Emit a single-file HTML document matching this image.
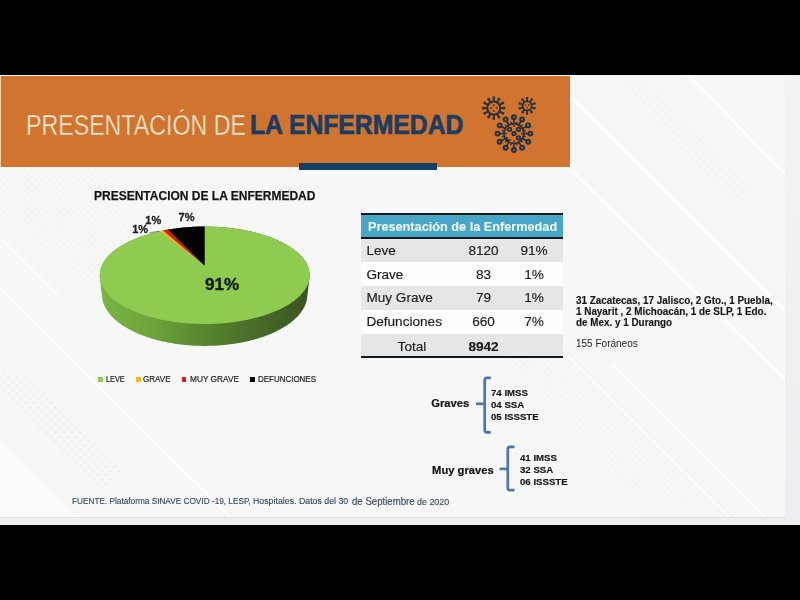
<!DOCTYPE html>
<html><head><meta charset="utf-8">
<style>
*{margin:0;padding:0;box-sizing:border-box}
html,body{width:800px;height:600px;overflow:hidden;background:#000}
body{position:relative;font-family:"Liberation Sans",Arial,sans-serif}
#frame{position:absolute;left:0;top:75px;width:800px;height:450px;background:linear-gradient(#f2f3f5,#eceef1)}
#slide{position:absolute;left:0;top:75px;width:785px;height:442px;background:#f6f6f6;overflow:hidden}
#band{position:absolute;left:1px;top:76px;width:569px;height:91px;background:#d07430}
#bar{position:absolute;left:299px;top:163px;width:138px;height:7px;background:#163f66}
.t{position:absolute;white-space:nowrap;line-height:1}
.b{font-weight:bold}
.ft{color:#2f4661;-webkit-text-stroke:0.12px #2f4661;transform-origin:0 0}
#title1{left:26.3px;top:110.1px;font-size:29.5px;color:#fbead3;-webkit-text-stroke:0.4px #d07430;paint-order:normal;transform:scaleX(0.786);transform-origin:0 0}
#title2{left:250.3px;top:111.2px;font-size:27.6px;color:#1b3d62;font-weight:bold;-webkit-text-stroke:0.7px #1b3d62;transform:scaleX(0.896);transform-origin:0 0}
#ctitle{left:93.6px;top:188.6px;font-size:13.7px;font-weight:bold;color:#141414;-webkit-text-stroke:0.25px #141414;transform:scaleX(0.877);transform-origin:0 0}
.lg{position:absolute;top:374.3px;font-size:9.6px;color:#222;-webkit-text-stroke:0.2px #222;line-height:1;white-space:nowrap;transform-origin:0 0}
.sq{position:absolute;top:376.7px;width:4.9px;height:4.9px}
.row{position:absolute;left:361px;width:202px}
.cell{position:absolute;font-size:13.6px;color:#1a1a1a;-webkit-text-stroke:0.15px #1a1a1a;line-height:1;white-space:nowrap}
.num{width:60px;left:453.5px;text-align:center}
.pct{width:60px;left:504px;text-align:center}
.rt{position:absolute;left:576px;font-size:10.2px;font-weight:bold;color:#161616;line-height:1;white-space:nowrap;transform:scaleX(0.97);transform-origin:0 0;-webkit-text-stroke:0.15px #161616}
.br{position:absolute;font-size:9.9px;font-weight:bold;color:#111;line-height:1;white-space:nowrap;transform:scaleX(0.975);transform-origin:0 0;-webkit-text-stroke:0.15px #111}
</style></head><body>
<div id="frame"></div>
<div id="slide"><svg width="785" height="442" viewBox="0 75 785 442" style="position:absolute;left:0;top:0">
  <defs>
    <pattern id="dots" width="5" height="5" patternUnits="userSpaceOnUse" patternTransform="rotate(45)">
      <circle cx="2.5" cy="2.5" r="1.1" fill="#e9e9e9"/>
    </pattern>
    <pattern id="dots2" width="6" height="6" patternUnits="userSpaceOnUse" patternTransform="rotate(45)">
      <circle cx="3" cy="3" r="1.4" fill="#e2e2e2"/>
    </pattern>
    <pattern id="wdots" width="6" height="6" patternUnits="userSpaceOnUse" patternTransform="rotate(45)">
      <rect width="6" height="6" fill="#f1f1f1"/>
      <circle cx="3" cy="3" r="1.5" fill="#fdfdfd"/>
    </pattern>
    <filter id="bl" x="-10%" y="-10%" width="120%" height="120%"><feGaussianBlur stdDeviation="0.7"/></filter>
  </defs>
  <rect x="0" y="75" width="785" height="442" fill="#f7f7f7"/>
  <g opacity="0.6">
    <polygon points="0,168 115,168 145,290 95,290 0,222" fill="url(#dots)" opacity="0.8"/>
    <polygon points="0,372 28,372 125,470 100,492 0,392" fill="url(#dots2)" opacity="0.7"/>
    <polygon points="490,340 560,340 740,517 640,517" fill="url(#dots)" opacity="0.7"/>
    <polygon points="615,80 650,80 760,190 735,205" fill="url(#wdots)" opacity="0.8"/>
  </g>
  <polygon points="0,440 77,517 0,517" fill="#fbfbfb"/>
  <g stroke="#ececec" stroke-width="4" opacity="0.7" fill="none" filter="url(#bl)">
  </g>
  <g stroke="#ffffff" stroke-width="3" fill="none" filter="url(#bl)" opacity="0.8">
    <line x1="0" y1="288" x2="230" y2="517"/>
    <line x1="0" y1="238" x2="60" y2="298" opacity="0.6"/>
    <line x1="571" y1="97" x2="786" y2="312"/>
    <line x1="688" y1="75" x2="786" y2="175"/>
    <line x1="572" y1="171" x2="786" y2="380"/>
    <line x1="612" y1="364" x2="765" y2="517"/>
    <line x1="560" y1="348" x2="729" y2="517" opacity="0.6"/>
  </g>
</svg></div>
<div style="position:absolute;left:0;top:516.5px;width:786px;height:1.5px;background:#dde0e3"></div>
<div id="band"></div>
<div style="position:absolute;left:0;top:76px;width:1px;height:91px;background:#f6d2ac"></div>
<div id="bar"></div>
<div class="t" id="title1">PRESENTACIÓN DE</div>
<div class="t" id="title2">LA ENFERMEDAD</div>

<!-- virus icons -->
<svg style="position:absolute;left:0;top:0" width="800" height="600" viewBox="0 0 800 600">
<circle cx="493.8" cy="108.1" r="6.5" stroke="#27303b" stroke-width="2.0" fill="none"/>
<line x1="493.80" y1="101.60" x2="493.80" y2="97.50" stroke="#27303b" stroke-width="2.0"/>
<line x1="492.50" y1="97.50" x2="495.10" y2="97.50" stroke="#27303b" stroke-width="2.0"/>
<line x1="497.05" y1="102.47" x2="499.10" y2="98.92" stroke="#27303b" stroke-width="2.0"/>
<line x1="497.97" y1="98.27" x2="500.23" y2="99.57" stroke="#27303b" stroke-width="2.0"/>
<line x1="499.43" y1="104.85" x2="502.98" y2="102.80" stroke="#27303b" stroke-width="2.0"/>
<line x1="502.33" y1="101.67" x2="503.63" y2="103.93" stroke="#27303b" stroke-width="2.0"/>
<line x1="500.30" y1="108.10" x2="504.40" y2="108.10" stroke="#27303b" stroke-width="2.0"/>
<line x1="504.40" y1="106.80" x2="504.40" y2="109.40" stroke="#27303b" stroke-width="2.0"/>
<line x1="499.43" y1="111.35" x2="502.98" y2="113.40" stroke="#27303b" stroke-width="2.0"/>
<line x1="503.63" y1="112.27" x2="502.33" y2="114.53" stroke="#27303b" stroke-width="2.0"/>
<line x1="497.05" y1="113.73" x2="499.10" y2="117.28" stroke="#27303b" stroke-width="2.0"/>
<line x1="500.23" y1="116.63" x2="497.97" y2="117.93" stroke="#27303b" stroke-width="2.0"/>
<line x1="493.80" y1="114.60" x2="493.80" y2="118.70" stroke="#27303b" stroke-width="2.0"/>
<line x1="495.10" y1="118.70" x2="492.50" y2="118.70" stroke="#27303b" stroke-width="2.0"/>
<line x1="490.55" y1="113.73" x2="488.50" y2="117.28" stroke="#27303b" stroke-width="2.0"/>
<line x1="489.63" y1="117.93" x2="487.37" y2="116.63" stroke="#27303b" stroke-width="2.0"/>
<line x1="488.17" y1="111.35" x2="484.62" y2="113.40" stroke="#27303b" stroke-width="2.0"/>
<line x1="485.27" y1="114.53" x2="483.97" y2="112.27" stroke="#27303b" stroke-width="2.0"/>
<line x1="487.30" y1="108.10" x2="483.20" y2="108.10" stroke="#27303b" stroke-width="2.0"/>
<line x1="483.20" y1="109.40" x2="483.20" y2="106.80" stroke="#27303b" stroke-width="2.0"/>
<line x1="488.17" y1="104.85" x2="484.62" y2="102.80" stroke="#27303b" stroke-width="2.0"/>
<line x1="483.97" y1="103.93" x2="485.27" y2="101.67" stroke="#27303b" stroke-width="2.0"/>
<line x1="490.55" y1="102.47" x2="488.50" y2="98.92" stroke="#27303b" stroke-width="2.0"/>
<line x1="487.37" y1="99.57" x2="489.63" y2="98.27" stroke="#27303b" stroke-width="2.0"/>
<circle cx="493.80" cy="105.20" r="1.05" fill="#6a2d0e"/>
<circle cx="490.90" cy="108.10" r="1.05" fill="#6a2d0e"/>
<circle cx="496.70" cy="108.10" r="1.05" fill="#6a2d0e"/>
<circle cx="493.80" cy="111.00" r="1.05" fill="#6a2d0e"/>
<circle cx="527.1" cy="105.9" r="4.5" stroke="#27303b" stroke-width="1.8" fill="none"/>
<line x1="527.10" y1="101.40" x2="527.10" y2="97.90" stroke="#27303b" stroke-width="1.8"/>
<line x1="526.00" y1="97.90" x2="528.20" y2="97.90" stroke="#27303b" stroke-width="1.8"/>
<line x1="529.75" y1="102.26" x2="531.80" y2="99.43" stroke="#27303b" stroke-width="1.8"/>
<line x1="530.91" y1="98.78" x2="532.69" y2="100.07" stroke="#27303b" stroke-width="1.8"/>
<line x1="531.38" y1="104.51" x2="534.71" y2="103.43" stroke="#27303b" stroke-width="1.8"/>
<line x1="534.37" y1="102.38" x2="535.05" y2="104.47" stroke="#27303b" stroke-width="1.8"/>
<line x1="531.38" y1="107.29" x2="534.71" y2="108.37" stroke="#27303b" stroke-width="1.8"/>
<line x1="535.05" y1="107.33" x2="534.37" y2="109.42" stroke="#27303b" stroke-width="1.8"/>
<line x1="529.75" y1="109.54" x2="531.80" y2="112.37" stroke="#27303b" stroke-width="1.8"/>
<line x1="532.69" y1="111.73" x2="530.91" y2="113.02" stroke="#27303b" stroke-width="1.8"/>
<line x1="527.10" y1="110.40" x2="527.10" y2="113.90" stroke="#27303b" stroke-width="1.8"/>
<line x1="528.20" y1="113.90" x2="526.00" y2="113.90" stroke="#27303b" stroke-width="1.8"/>
<line x1="524.45" y1="109.54" x2="522.40" y2="112.37" stroke="#27303b" stroke-width="1.8"/>
<line x1="523.29" y1="113.02" x2="521.51" y2="111.73" stroke="#27303b" stroke-width="1.8"/>
<line x1="522.82" y1="107.29" x2="519.49" y2="108.37" stroke="#27303b" stroke-width="1.8"/>
<line x1="519.83" y1="109.42" x2="519.15" y2="107.33" stroke="#27303b" stroke-width="1.8"/>
<line x1="522.82" y1="104.51" x2="519.49" y2="103.43" stroke="#27303b" stroke-width="1.8"/>
<line x1="519.15" y1="104.47" x2="519.83" y2="102.38" stroke="#27303b" stroke-width="1.8"/>
<line x1="524.45" y1="102.26" x2="522.40" y2="99.43" stroke="#27303b" stroke-width="1.8"/>
<line x1="521.51" y1="100.07" x2="523.29" y2="98.78" stroke="#27303b" stroke-width="1.8"/>
<circle cx="525.50" cy="104.90" r="0.85" fill="#6a2d0e"/>
<circle cx="528.70" cy="104.90" r="0.85" fill="#6a2d0e"/>
<circle cx="527.10" cy="107.60" r="0.85" fill="#6a2d0e"/>
<circle cx="513.9" cy="133.6" r="9.9" stroke="#27303b" stroke-width="1.7" fill="none"/>
<line x1="513.90" y1="123.70" x2="513.90" y2="119.50" stroke="#27303b" stroke-width="1.7"/>
<circle cx="513.90" cy="117.20" r="2.0" stroke="#27303b" stroke-width="1.9" fill="#6a7882"/>
<line x1="516.46" y1="124.04" x2="517.03" y2="121.91" stroke="#27303b" stroke-width="1.5"/>
<line x1="518.85" y1="125.03" x2="520.95" y2="121.39" stroke="#27303b" stroke-width="1.7"/>
<circle cx="522.10" cy="119.40" r="2.0" stroke="#27303b" stroke-width="1.9" fill="#6a7882"/>
<line x1="520.90" y1="126.60" x2="522.46" y2="125.04" stroke="#27303b" stroke-width="1.5"/>
<line x1="522.47" y1="128.65" x2="526.11" y2="126.55" stroke="#27303b" stroke-width="1.7"/>
<circle cx="528.10" cy="125.40" r="2.0" stroke="#27303b" stroke-width="1.9" fill="#6a7882"/>
<line x1="523.46" y1="131.04" x2="525.59" y2="130.47" stroke="#27303b" stroke-width="1.5"/>
<line x1="523.80" y1="133.60" x2="528.00" y2="133.60" stroke="#27303b" stroke-width="1.7"/>
<circle cx="530.30" cy="133.60" r="2.0" stroke="#27303b" stroke-width="1.9" fill="#6a7882"/>
<line x1="523.46" y1="136.16" x2="525.59" y2="136.73" stroke="#27303b" stroke-width="1.5"/>
<line x1="522.47" y1="138.55" x2="526.11" y2="140.65" stroke="#27303b" stroke-width="1.7"/>
<circle cx="528.10" cy="141.80" r="2.0" stroke="#27303b" stroke-width="1.9" fill="#6a7882"/>
<line x1="520.90" y1="140.60" x2="522.46" y2="142.16" stroke="#27303b" stroke-width="1.5"/>
<line x1="518.85" y1="142.17" x2="520.95" y2="145.81" stroke="#27303b" stroke-width="1.7"/>
<circle cx="522.10" cy="147.80" r="2.0" stroke="#27303b" stroke-width="1.9" fill="#6a7882"/>
<line x1="516.46" y1="143.16" x2="517.03" y2="145.29" stroke="#27303b" stroke-width="1.5"/>
<line x1="513.90" y1="143.50" x2="513.90" y2="147.70" stroke="#27303b" stroke-width="1.7"/>
<circle cx="513.90" cy="150.00" r="2.0" stroke="#27303b" stroke-width="1.9" fill="#6a7882"/>
<line x1="511.34" y1="143.16" x2="510.77" y2="145.29" stroke="#27303b" stroke-width="1.5"/>
<line x1="508.95" y1="142.17" x2="506.85" y2="145.81" stroke="#27303b" stroke-width="1.7"/>
<circle cx="505.70" cy="147.80" r="2.0" stroke="#27303b" stroke-width="1.9" fill="#6a7882"/>
<line x1="506.90" y1="140.60" x2="505.34" y2="142.16" stroke="#27303b" stroke-width="1.5"/>
<line x1="505.33" y1="138.55" x2="501.69" y2="140.65" stroke="#27303b" stroke-width="1.7"/>
<circle cx="499.70" cy="141.80" r="2.0" stroke="#27303b" stroke-width="1.9" fill="#6a7882"/>
<line x1="504.34" y1="136.16" x2="502.21" y2="136.73" stroke="#27303b" stroke-width="1.5"/>
<line x1="504.00" y1="133.60" x2="499.80" y2="133.60" stroke="#27303b" stroke-width="1.7"/>
<circle cx="497.50" cy="133.60" r="2.0" stroke="#27303b" stroke-width="1.9" fill="#6a7882"/>
<line x1="504.34" y1="131.04" x2="502.21" y2="130.47" stroke="#27303b" stroke-width="1.5"/>
<line x1="505.33" y1="128.65" x2="501.69" y2="126.55" stroke="#27303b" stroke-width="1.7"/>
<circle cx="499.70" cy="125.40" r="2.0" stroke="#27303b" stroke-width="1.9" fill="#6a7882"/>
<line x1="506.90" y1="126.60" x2="505.34" y2="125.04" stroke="#27303b" stroke-width="1.5"/>
<line x1="508.95" y1="125.03" x2="506.85" y2="121.39" stroke="#27303b" stroke-width="1.7"/>
<circle cx="505.70" cy="119.40" r="2.0" stroke="#27303b" stroke-width="1.9" fill="#6a7882"/>
<line x1="511.34" y1="124.04" x2="510.77" y2="121.91" stroke="#27303b" stroke-width="1.5"/>
<circle cx="509.50" cy="129.30" r="1.8" stroke="#27303b" stroke-width="1.7" fill="#6a7882"/>
<circle cx="518.50" cy="129.30" r="1.8" stroke="#27303b" stroke-width="1.7" fill="#6a7882"/>
<circle cx="513.90" cy="133.60" r="1.8" stroke="#27303b" stroke-width="1.7" fill="#6a7882"/>
<circle cx="518.50" cy="137.90" r="1.8" stroke="#27303b" stroke-width="1.7" fill="#6a7882"/>
<path d="M507.30 137.00 a1.9 1.9 0 0 0 3.4 2.4" stroke="#27303b" stroke-width="1.5" fill="none"/>
<circle cx="513.90" cy="125.70" r="1.0" fill="#6a2d0e"/>
<circle cx="506.00" cy="133.60" r="1.0" fill="#6a2d0e"/>
<circle cx="521.80" cy="133.60" r="1.0" fill="#6a2d0e"/>
<circle cx="513.90" cy="141.50" r="1.0" fill="#6a2d0e"/>

</svg>

<div class="t" id="ctitle">PRESENTACION DE LA ENFERMEDAD</div>

<!-- pie -->
<svg style="position:absolute;left:0;top:0" width="800" height="600" viewBox="0 0 800 600">
  <defs>
    <linearGradient id="side" x1="99.7" y1="0" x2="309.7" y2="0" gradientUnits="userSpaceOnUse">
      <stop offset="0" stop-color="#7ab543"/>
      <stop offset="0.24" stop-color="#6ea43c"/>
      <stop offset="0.5" stop-color="#588630"/>
      <stop offset="0.71" stop-color="#4a6e2a"/>
      <stop offset="0.95" stop-color="#3d5a22"/>
      <stop offset="1" stop-color="#3a5621"/>
    </linearGradient>
  </defs>
  <polygon points="99.77,274.99 99.79,274.13 99.85,273.26 99.94,272.41 100.07,271.55 100.22,270.70 100.41,269.86 100.63,269.01 100.87,268.18 101.15,267.35 101.46,266.52 101.80,265.70 102.16,264.88 102.56,264.07 102.98,263.27 103.43,262.47 103.91,261.68 104.41,260.90 104.94,260.12 105.50,259.35 106.08,258.58 106.69,257.83 107.33,257.08 107.98,256.33 108.67,255.60 109.37,254.87 110.10,254.15 110.85,253.44 111.62,252.74 112.42,252.04 113.23,251.35 114.07,250.67 114.93,250.00 115.81,249.34 116.71,248.69 117.63,248.04 118.57,247.40 119.52,246.78 120.50,246.16 121.49,245.54 122.50,244.94 123.53,244.35 124.58,243.77 125.64,243.19 126.72,242.63 127.81,242.07 128.92,241.53 130.04,240.99 131.18,240.46 132.34,239.94 133.50,239.44 134.68,238.94 135.88,238.45 137.09,237.97 138.31,237.50 139.54,237.04 140.79,236.58 142.04,236.14 143.31,235.71 144.59,235.29 145.88,234.88 147.18,234.47 148.49,234.08 149.81,233.70 151.15,233.32 152.49,232.96 153.84,232.61 155.19,232.26 156.56,231.93 157.94,231.61 159.32,231.29 160.71,230.99 162.11,230.69 163.51,230.41 164.92,230.14 166.34,229.87 167.77,229.62 169.20,229.37 170.63,229.14 172.07,228.91 173.52,228.70 174.97,228.50 176.43,228.30 177.89,228.12 179.36,227.94 180.83,227.78 182.30,227.62 183.78,227.48 185.26,227.34 186.74,227.22 188.23,227.10 189.72,227.00 191.21,226.90 192.71,226.82 194.20,226.74 195.70,226.68 197.19,226.62 198.69,226.58 200.19,226.54 201.70,226.52 203.20,226.50 204.70,226.50 206.20,226.50 207.70,226.52 209.21,226.54 210.71,226.58 212.21,226.62 213.70,226.68 215.20,226.74 216.69,226.82 218.19,226.90 219.68,227.00 221.17,227.10 222.66,227.22 224.14,227.34 225.62,227.48 227.10,227.62 228.57,227.78 230.04,227.94 231.51,228.12 232.97,228.30 234.43,228.50 235.88,228.70 237.32,228.91 238.77,229.14 240.20,229.37 241.63,229.62 243.06,229.87 244.48,230.14 245.89,230.41 247.29,230.69 248.69,230.99 250.08,231.29 251.47,231.61 252.84,231.93 254.21,232.26 255.56,232.61 256.91,232.96 258.25,233.32 259.58,233.70 260.91,234.08 262.22,234.47 263.52,234.88 264.81,235.29 266.09,235.71 267.36,236.14 268.61,236.58 269.86,237.04 271.09,237.50 272.31,237.97 273.52,238.45 274.72,238.94 275.90,239.44 277.06,239.94 278.22,240.46 279.36,240.99 280.48,241.53 281.59,242.07 282.69,242.63 283.76,243.19 284.82,243.77 285.87,244.35 286.90,244.94 287.91,245.54 288.90,246.16 289.88,246.78 290.83,247.40 291.77,248.04 292.69,248.69 293.59,249.34 294.47,250.00 295.33,250.67 296.17,251.35 296.98,252.04 297.78,252.74 298.55,253.44 299.30,254.15 300.03,254.87 300.74,255.60 301.42,256.33 302.07,257.08 302.71,257.83 303.31,258.58 303.90,259.35 304.45,260.12 304.99,260.90 305.49,261.68 305.97,262.47 306.42,263.27 306.84,264.07 307.24,264.88 307.60,265.70 307.94,266.52 308.25,267.35 308.53,268.18 308.77,269.01 308.99,269.86 309.18,270.70 309.33,271.55 309.46,272.41 309.55,273.26 309.61,274.13 309.63,274.99 309.63,275.86 309.58,276.73 309.51,277.60 307.24,297.19 307.12,298.12 306.97,299.04 306.79,299.97 306.58,300.90 306.33,301.83 306.04,302.76 305.72,303.69 305.37,304.62 304.97,305.55 304.55,306.48 304.08,307.41 303.59,308.34 303.05,309.26 302.48,310.19 301.87,311.11 301.23,312.02 300.54,312.94 299.83,313.85 299.07,314.75 298.28,315.66 297.45,316.55 296.58,317.44 295.68,318.33 294.74,319.21 293.76,320.08 292.75,320.95 291.70,321.80 290.61,322.65 289.49,323.50 288.33,324.33 287.13,325.15 285.90,325.96 284.64,326.77 283.33,327.56 282.00,328.34 280.63,329.11 279.22,329.87 277.79,330.61 276.31,331.34 274.81,332.06 273.27,332.77 271.70,333.46 270.10,334.13 268.47,334.80 266.81,335.44 265.12,336.07 263.40,336.68 261.65,337.28 259.88,337.86 258.07,338.42 256.25,338.97 254.39,339.49 252.51,340.00 250.61,340.49 248.69,340.96 246.74,341.41 244.77,341.84 242.79,342.25 240.78,342.64 238.75,343.01 236.71,343.35 234.65,343.68 232.58,343.99 230.49,344.27 228.39,344.53 226.27,344.77 224.15,344.99 222.01,345.18 219.87,345.35 217.72,345.50 215.56,345.63 213.39,345.73 211.22,345.81 209.05,345.87 206.88,345.90 204.70,345.92 202.52,345.90 200.35,345.87 198.18,345.81 196.01,345.73 193.84,345.63 191.68,345.50 189.53,345.35 187.39,345.18 185.25,344.99 183.13,344.77 181.01,344.53 178.91,344.27 176.82,343.99 174.75,343.68 172.69,343.35 170.65,343.01 168.62,342.64 166.61,342.25 164.63,341.84 162.66,341.41 160.71,340.96 158.79,340.49 156.88,340.00 155.01,339.49 153.15,338.97 151.32,338.42 149.52,337.86 147.75,337.28 146.00,336.68 144.28,336.07 142.59,335.44 140.93,334.80 139.30,334.13 137.70,333.46 136.13,332.77 134.59,332.06 133.09,331.34 131.62,330.61 130.18,329.87 128.77,329.11 127.40,328.34 126.06,327.56 124.76,326.77 123.50,325.96 122.27,325.15 121.07,324.33 119.91,323.50 118.79,322.65 117.70,321.80 116.65,320.95 115.64,320.08 114.66,319.21 113.72,318.33 112.82,317.44 111.95,316.55 111.12,315.66 110.33,314.75 109.57,313.85 108.86,312.94 108.17,312.02 107.53,311.11 106.92,310.19 106.35,309.26 105.81,308.34 105.31,307.41 104.85,306.48 104.43,305.55 104.03,304.62 103.68,303.69 103.36,302.76 103.07,301.83 102.82,300.90 102.61,299.97 102.43,299.04 102.28,298.12 102.17,297.19 99.89,277.60 99.81,276.73 99.77,275.86" fill="url(#side)"/>
<polygon points="204.70,226.50 206.20,226.50 207.70,226.52 209.20,226.54 210.71,226.58 212.20,226.62 213.70,226.68 215.20,226.74 216.70,226.82 218.19,226.90 219.68,227.00 221.17,227.10 222.66,227.22 224.14,227.34 225.62,227.48 227.10,227.62 228.57,227.78 230.04,227.94 231.51,228.12 232.97,228.30 234.43,228.50 235.88,228.70 237.32,228.91 238.77,229.14 240.20,229.37 241.63,229.62 243.06,229.87 244.48,230.14 245.89,230.41 247.29,230.70 248.69,230.99 250.08,231.29 251.46,231.61 252.84,231.93 254.21,232.26 255.56,232.61 256.91,232.96 258.25,233.33 259.58,233.70 260.91,234.08 262.22,234.47 263.52,234.88 264.81,235.29 266.09,235.71 267.36,236.14 268.61,236.58 269.86,237.04 271.09,237.50 272.31,237.97 273.52,238.45 274.72,238.94 275.90,239.44 277.06,239.94 278.22,240.46 279.36,240.99 280.48,241.53 281.59,242.07 282.68,242.63 283.76,243.19 284.82,243.77 285.87,244.35 286.90,244.94 287.91,245.55 288.90,246.16 289.88,246.78 290.83,247.40 291.77,248.04 292.69,248.69 293.59,249.34 294.47,250.00 295.33,250.67 296.17,251.35 296.98,252.04 297.78,252.74 298.55,253.44 299.30,254.15 300.03,254.87 300.74,255.60 301.42,256.34 302.07,257.08 302.71,257.83 303.32,258.58 303.90,259.35 304.46,260.12 304.99,260.90 305.49,261.68 305.97,262.47 306.42,263.27 306.84,264.08 307.24,264.88 307.60,265.70 307.94,266.52 308.25,267.35 308.53,268.18 308.77,269.02 308.99,269.86 309.18,270.70 309.33,271.55 309.46,272.41 309.55,273.26 309.61,274.13 309.63,274.99 309.63,275.86 309.59,276.73 309.51,277.60 309.40,278.48 309.26,279.36 309.08,280.24 308.87,281.12 308.62,282.00 308.34,282.88 308.02,283.77 307.66,284.65 307.27,285.53 306.84,286.42 306.38,287.30 305.87,288.18 305.33,289.06 304.76,289.94 304.14,290.81 303.49,291.68 302.80,292.55 302.07,293.42 301.30,294.28 300.50,295.14 299.66,295.99 298.78,296.84 297.86,297.68 296.90,298.52 295.91,299.35 294.88,300.17 293.81,300.99 292.70,301.80 291.56,302.60 290.38,303.39 289.16,304.17 287.90,304.95 286.61,305.71 285.28,306.47 283.92,307.21 282.52,307.95 281.08,308.67 279.61,309.38 278.11,310.08 276.57,310.76 275.00,311.44 273.39,312.09 271.76,312.74 270.09,313.37 268.39,313.99 266.66,314.59 264.90,315.17 263.11,315.74 261.29,316.29 259.44,316.83 257.57,317.35 255.67,317.85 253.75,318.34 251.80,318.80 249.83,319.25 247.83,319.68 245.81,320.09 243.78,320.48 241.72,320.86 239.64,321.21 237.55,321.54 235.43,321.85 233.31,322.14 231.16,322.42 229.01,322.66 226.84,322.89 224.66,323.10 222.47,323.29 220.27,323.45 218.06,323.59 215.84,323.72 213.62,323.81 211.39,323.89 209.17,323.95 206.93,323.98 204.70,323.99 202.47,323.98 200.23,323.95 198.01,323.89 195.78,323.81 193.56,323.72 191.34,323.59 189.13,323.45 186.93,323.29 184.74,323.10 182.56,322.89 180.39,322.66 178.24,322.42 176.09,322.14 173.97,321.85 171.85,321.54 169.76,321.21 167.68,320.86 165.62,320.48 163.59,320.09 161.57,319.68 159.57,319.25 157.60,318.80 155.65,318.34 153.73,317.85 151.83,317.35 149.96,316.83 148.11,316.29 146.29,315.74 144.50,315.17 142.74,314.59 141.01,313.99 139.31,313.37 137.64,312.74 136.01,312.09 134.40,311.44 132.83,310.76 131.29,310.08 129.79,309.38 128.32,308.67 126.88,307.95 125.48,307.21 124.12,306.47 122.79,305.71 121.50,304.95 120.24,304.17 119.02,303.39 117.84,302.60 116.70,301.80 115.59,300.99 114.52,300.17 113.49,299.35 112.50,298.52 111.54,297.68 110.62,296.84 109.74,295.99 108.90,295.14 108.10,294.28 107.33,293.42 106.60,292.55 105.91,291.68 105.26,290.81 104.64,289.94 104.07,289.06 103.53,288.18 103.02,287.30 102.56,286.42 102.13,285.53 101.74,284.65 101.38,283.77 101.06,282.88 100.78,282.00 100.53,281.12 100.32,280.24 100.14,279.36 100.00,278.48 99.89,277.60 99.81,276.73 99.77,275.86 99.77,274.99 99.79,274.13 99.85,273.26 99.94,272.41 100.07,271.55 100.22,270.70 100.41,269.86 100.63,269.02 100.87,268.18 101.15,267.35 101.46,266.52 101.80,265.70 102.16,264.88 102.56,264.08 102.98,263.27 103.43,262.47 103.91,261.68 104.41,260.90 104.94,260.12 105.50,259.35 106.08,258.58 106.69,257.83 107.33,257.08 107.98,256.34 108.66,255.60 109.37,254.87 110.10,254.15 110.85,253.44 111.62,252.74 112.42,252.04 113.23,251.35 114.07,250.67 114.93,250.00 115.81,249.34 116.71,248.69 117.63,248.04 118.57,247.40 119.52,246.78 120.50,246.16 121.49,245.55 122.50,244.94 123.53,244.35 124.58,243.77 125.64,243.19 126.72,242.63 127.81,242.07 128.92,241.53 130.04,240.99 131.18,240.46 132.34,239.94 133.50,239.44 134.68,238.94 135.88,238.45 137.09,237.97 138.31,237.50 139.54,237.04 140.79,236.58 142.04,236.14 143.31,235.71 144.59,235.29 145.88,234.88 147.18,234.47 148.49,234.08 149.82,233.70 151.15,233.33 152.49,232.96 153.84,232.61 155.19,232.26 156.56,231.93 157.94,231.61 159.32,231.29 160.71,230.99 162.11,230.70 163.51,230.41 164.92,230.14 166.34,229.87 167.77,229.62 169.20,229.37 170.63,229.14 172.08,228.91 173.52,228.70 174.97,228.50 176.43,228.30 177.89,228.12 179.36,227.94 180.83,227.78 182.30,227.62 183.78,227.48 185.26,227.34 186.74,227.22 188.23,227.10 189.72,227.00 191.21,226.90 192.70,226.82 194.20,226.74 195.70,226.68 197.20,226.62 198.69,226.58 200.20,226.54 201.70,226.52 203.20,226.50 204.70,226.50" fill="#8fcb50"/>
<polygon points="204.70,265.70 160.01,231.14 160.74,230.98 161.48,230.83 162.21,230.67 162.95,230.52" fill="#f2b81c"/>
<polygon points="204.70,265.70 162.95,230.52 164.15,230.29 165.35,230.06 166.55,229.83 167.77,229.62" fill="#d81b1b"/>
<polygon points="204.70,265.70 167.77,229.62 169.20,229.37 170.63,229.14 172.08,228.91 173.52,228.70 174.97,228.50 176.43,228.30 177.89,228.12 179.36,227.94 180.83,227.78 182.30,227.62 183.78,227.48 185.26,227.34 186.74,227.22 188.23,227.10 189.72,227.00 191.21,226.90 192.70,226.82 194.20,226.74 195.70,226.68 197.20,226.62 198.69,226.58 200.20,226.54 201.70,226.52 203.20,226.50 204.70,226.50" fill="#000000"/>

  <line x1="149.5" y1="232.6" x2="159.5" y2="231.3" stroke="#6f6f6f" stroke-width="0.8"/>
  <line x1="147.2" y1="222.5" x2="143.8" y2="228.2" stroke="#333" stroke-width="0.9"/>
</svg>
<div class="t b" style="left:178.6px;top:211.8px;font-size:11px;color:#1e1e1e;-webkit-text-stroke:0.3px #1e1e1e">7%</div>
<div class="t b" style="left:145.3px;top:215.2px;font-size:11px;color:#1e1e1e;-webkit-text-stroke:0.3px #1e1e1e">1%</div>
<div class="t b" style="left:132.2px;top:223.8px;font-size:11px;color:#1e1e1e;-webkit-text-stroke:0.3px #1e1e1e">1%</div>
<div class="t b" style="left:205px;top:276px;font-size:17px;color:#0f1a08;-webkit-text-stroke:0.35px #0f1a08">91%</div>

<!-- legend -->
<div class="sq" style="left:98px;background:#8fcb50"></div>
<div class="lg" style="left:105.6px;transform:scaleX(0.76)">LEVE</div>
<div class="sq" style="left:135.9px;background:#f2b81c"></div>
<div class="lg" style="left:143px;transform:scaleX(0.84)">GRAVE</div>
<div class="sq" style="left:181.5px;background:#d81b1b"></div>
<div class="lg" style="left:189.6px;transform:scaleX(0.865)">MUY GRAVE</div>
<div class="sq" style="left:250px;background:#000"></div>
<div class="lg" style="left:257.6px;transform:scaleX(0.83)">DEFUNCIONES</div>

<!-- table -->
<div class="row" style="top:213px;height:2px;background:#121a1f"></div>
<div class="row" style="top:215px;height:22px;background:#48a6c6"></div>
<div class="row" style="top:237px;height:2px;background:#121a1f"></div>
<div class="row" style="top:239px;height:23px;background:#e6e6e6"></div>
<div class="row" style="top:262px;height:24px;background:#fdfdfd"></div>
<div class="row" style="top:286px;height:23.5px;background:#e6e6e6"></div>
<div class="row" style="top:309.5px;height:24px;background:#fdfdfd"></div>
<div class="row" style="top:333.5px;height:22px;background:#e6e6e6"></div>
<div class="row" style="top:355.5px;height:2px;background:#121a1f"></div>
<div class="cell b" style="left:368px;top:219.65px;font-size:13.1px;color:#eefafd;-webkit-text-stroke:0.1px #eefafd;transform:scaleX(0.97);transform-origin:0 0">Presentación de la Enfermedad</div>
<div class="cell" style="left:366.4px;top:243.85px">Leve</div>
<div class="cell num" style="top:243.85px">8120</div>
<div class="cell pct" style="top:243.85px">91%</div>
<div class="cell" style="left:366.4px;top:267.95px">Grave</div>
<div class="cell num" style="top:267.95px">83</div>
<div class="cell pct" style="top:267.95px">1%</div>
<div class="cell" style="left:366.4px;top:291.40px">Muy Grave</div>
<div class="cell num" style="top:291.40px">79</div>
<div class="cell pct" style="top:291.40px">1%</div>
<div class="cell" style="left:366.4px;top:315.30px">Defunciones</div>
<div class="cell num" style="top:315.30px">660</div>
<div class="cell pct" style="top:315.30px">7%</div>
<div class="cell" style="left:397.6px;top:339.50px">Total</div>
<div class="cell num b" style="top:339.50px">8942</div>

<!-- right text -->
<div class="rt" style="top:296.1px">31 Zacatecas, 17 Jalisco, 2 Gto., 1 Puebla,</div>
<div class="rt" style="top:307.3px">1 Nayarit , 2 Michoacán, 1 de SLP, 1 Edo.</div>
<div class="rt" style="top:318.3px">de Mex. y 1 Durango</div>
<div class="rt" style="top:339.2px;font-weight:normal;color:#262626;font-size:10px;transform:none;-webkit-text-stroke:0">155 Foráneos</div>

<!-- brackets -->
<div class="t b" style="left:431.3px;top:398px;font-size:11.2px;color:#111;-webkit-text-stroke:0.2px #111">Graves</div>
<div class="br" style="left:491px;top:388.3px">74 IMSS</div>
<div class="br" style="left:491px;top:399.8px">04 SSA</div>
<div class="br" style="left:491px;top:411.6px">05 ISSSTE</div>
<div class="t b" style="left:432.1px;top:464.6px;font-size:11.2px;color:#111;-webkit-text-stroke:0.2px #111">Muy graves</div>
<div class="br" style="left:520.3px;top:452.6px">41 IMSS</div>
<div class="br" style="left:520.3px;top:465.0px">32 SSA</div>
<div class="br" style="left:520.3px;top:476.6px">06 ISSSTE</div>
<svg style="position:absolute;left:0;top:0" width="800" height="600" viewBox="0 0 800 600">
  <g stroke="#4a76b2" stroke-width="2.7" fill="none" stroke-linecap="butt">
    <path d="M490.8 377.8 H487 Q484.7 377.8 484.7 380 V430 Q484.7 432.3 487 432.3 H490.8"/>
    <path d="M475.9 403.8 H484.7"/>
    <path d="M514.5 446.8 H510 Q507.8 446.8 507.8 449 V488 Q507.8 490.2 510 490.2 H514.5"/>
    <path d="M499.6 468.9 H507.8"/>
  </g>
</svg>

<!-- footer -->
<div class="t ft" style="left:71.6px;top:496.7px;font-size:8.9px;transform:scaleX(0.928)">FUENTE. Plataforma SINAVE COVID -19, LESP,</div>
<div class="t ft" style="left:253px;top:496.7px;font-size:8.9px;transform:scaleX(0.99)">Hospitales. Datos del 30</div>
<div class="t ft" style="left:351.6px;top:496.5px;font-size:10.1px;transform:scaleX(0.955)">de Septiembre</div>
<div class="t ft" style="left:417px;top:496.9px;font-size:9.4px;transform:scaleX(0.95)">de 2020</div>
</body></html>
